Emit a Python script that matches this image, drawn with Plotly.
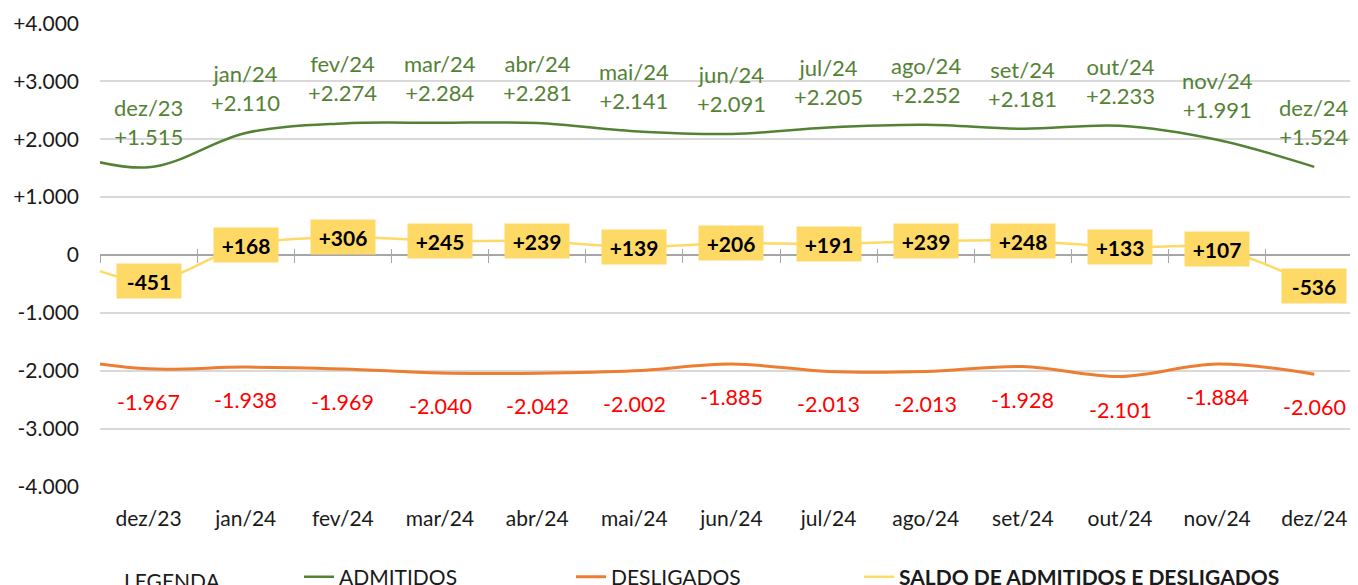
import plotly.graph_objects as go

# ---- data (first point nov/23 is only partially visible at the left edge) ----
months = ["nov/23", "dez/23", "jan/24", "fev/24", "mar/24", "abr/24", "mai/24",
          "jun/24", "jul/24", "ago/24", "set/24", "out/24", "nov/24", "dez/24"]
admitidos = [1830, 1515, 2110, 2274, 2284, 2281, 2141, 2091, 2205, 2252, 2181, 2233, 1991, 1524]
desligados = [-1760, -1967, -1938, -1969, -2040, -2042, -2002, -1885, -2013, -2013, -1928, -2101, -1884, -2060]
saldo = [70, -451, 168, 306, 245, 239, 139, 206, 191, 239, 248, 133, 107, -536]

y_ticks = [4000, 3000, 2000, 1000, 0, -1000, -2000, -3000, -4000]
y_ticktext = ["+4.000", "+3.000", "+2.000", "+1.000", "0", "-1.000", "-2.000", "-3.000", "-4.000"]

FONT = "Lato"
GREEN = "#548235"
ORANGE = "#ed7d31"
YELLOW = "#ffd966"
RED = "#ff0000"
TXT = "#1a1a1a"

# page has an 8px body margin: figure is placed at (8, 8) in the 1358x585 window
OFF = 8
W, H = 1358 - OFF, 585 - OFF
ML, MR, MT = 100 - OFF, 0, 23 - OFF
PLOT_BOTTOM = 487 - OFF
MB = H - PLOT_BOTTOM

xs = list(range(-1, len(months) - 1))


def fmt(v, sign=True):
    s = f"{abs(v):,}".replace(",", ".")
    if v < 0:
        return "-" + s
    return ("+" + s) if sign else s


fig = go.Figure()
fig.add_trace(go.Scatter(x=xs, y=admitidos, mode="lines", name="ADMITIDOS", legend="legend",
                         line=dict(color=GREEN, width=2.5, shape="spline", smoothing=1)))
fig.add_trace(go.Scatter(x=xs, y=desligados, mode="lines", name="DESLIGADOS", legend="legend2",
                         line=dict(color=ORANGE, width=3, shape="spline", smoothing=1)))
fig.add_trace(go.Scatter(x=xs, y=saldo, mode="lines", name="<b>SALDO DE ADMITIDOS E DESLIGADOS</b>",
                         legend="legend3",
                         line=dict(color=YELLOW, width=2.5, shape="spline", smoothing=1)))

annotations = []
for i in range(1, len(months)):
    x = xs[i]
    annotations.append(dict(x=x, y=admitidos[i], xref="x", yref="y", showarrow=False,
                            text=f"{months[i]}<br>{fmt(admitidos[i])}", yshift=45,
                            font=dict(family=FONT, size=22, color=GREEN)))
    annotations.append(dict(x=x, y=desligados[i], xref="x", yref="y", showarrow=False,
                            text=fmt(desligados[i]), yshift=-33,
                            font=dict(family=FONT, size=21.5, color=RED)))
    annotations.append(dict(x=x, y=saldo[i], xref="x", yref="y", showarrow=False,
                            text=f"<b>{fmt(saldo[i])}</b>", bgcolor=YELLOW,
                            width=60, height=30, borderpad=2,
                            font=dict(family=FONT, size=21, color="#000000")))

plot_w = W - ML - MR
plot_h = H - MT - MB
annotations.append(dict(x=(122 - OFF - ML) / plot_w, y=-(580 - OFF - PLOT_BOTTOM) / plot_h,
                        xref="paper", yref="paper", showarrow=False,
                        text="LEGENDA", xanchor="left", yanchor="middle",
                        font=dict(family=FONT, size=21, color=TXT)))

x_range = [-0.5, 12.45]
boundaries = [i + 0.5 for i in range(-1, 13)]


def leg(text_x_page):
    return dict(orientation="h", xref="container", yref="container",
                x=(text_x_page - OFF - 41) / W, y=1 - (577 - OFF) / H,
                xanchor="left", yanchor="middle",
                font=dict(family=FONT, size=21, color=TXT), bgcolor="rgba(0,0,0,0)",
                borderwidth=0)


fig.update_layout(
    width=W, height=H,
    margin=dict(l=ML, r=MR, t=MT, b=MB, autoexpand=False),
    paper_bgcolor="white", plot_bgcolor="white",
    font=dict(family=FONT, size=20, color=TXT),
    showlegend=True,
    legend=leg(340), legend2=leg(612), legend3=leg(900),
    xaxis=dict(range=x_range, tickvals=xs[1:], ticktext=months[1:], showgrid=False,
               zeroline=False, showline=False, ticks="", ticklabelstandoff=17,
               tickfont=dict(family=FONT, size=21, color=TXT)),
    xaxis2=dict(range=x_range, overlaying="x", anchor="free", position=0.5,
                tickvals=boundaries, showticklabels=False, ticks="outside", ticklen=7,
                tickcolor="#a6a6a6", showline=True, linecolor="#a6a6a6", linewidth=1.5,
                showgrid=False, zeroline=False),
    xaxis3=dict(range=x_range, overlaying="x", anchor="free", position=0.5,
                tickvals=boundaries, showticklabels=False, ticks="inside", ticklen=6,
                tickcolor="#a6a6a6", showline=False, showgrid=False, zeroline=False),
    yaxis=dict(range=[-4010, 4010], tickvals=y_ticks, ticktext=y_ticktext,
               showgrid=True, gridcolor="#d9d9d9", gridwidth=1.5, zeroline=False,
               ticks="", ticklabelstandoff=20,
               tickfont=dict(family=FONT, size=21, color=TXT)),
    annotations=annotations,
)

# invisible traces to activate the tick-only axes
fig.add_trace(go.Scatter(x=[None], y=[None], xaxis="x2", showlegend=False, hoverinfo="skip"))
fig.add_trace(go.Scatter(x=[None], y=[None], xaxis="x3", showlegend=False, hoverinfo="skip"))

fig.write_html("out.html")
